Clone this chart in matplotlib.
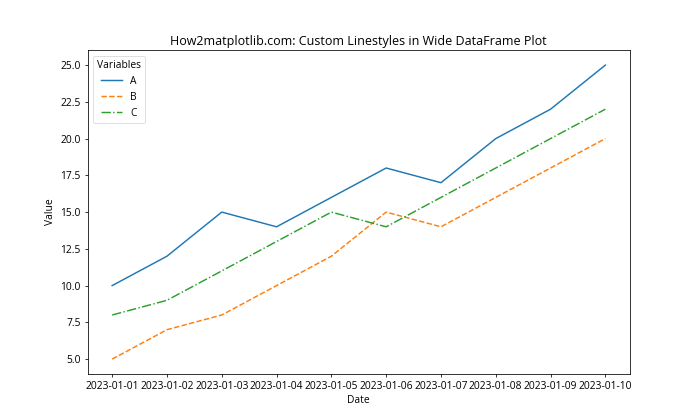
import matplotlib
matplotlib.use("Agg")
import matplotlib.pyplot as plt

plt.rcParams['font.family'] = ['Open Sans', 'DejaVu Sans']

dates = ['2023-01-01', '2023-01-02', '2023-01-03', '2023-01-04', '2023-01-05',
         '2023-01-06', '2023-01-07', '2023-01-08', '2023-01-09', '2023-01-10']
series_a = [10, 12, 15, 14, 16, 18, 17, 20, 22, 25]
series_b = [5, 7, 8, 10, 12, 15, 14, 16, 18, 20]
series_c = [8, 9, 11, 13, 15, 14, 16, 18, 20, 22]

fig = plt.figure(figsize=(7, 4.2), dpi=100)
ax = fig.add_subplot(111)
lw = 1.05
ax.plot(dates, series_a, color='#1f77b4', linestyle='-', linewidth=lw, label='A')
ax.plot(dates, series_b, color='#ff7f0e', linestyle='--', linewidth=lw, label='B')
ax.plot(dates, series_c, color='#2ca02c', linestyle='-.', linewidth=lw, label='C')

ax.set_yticks([5.0, 7.5, 10.0, 12.5, 15.0, 17.5, 20.0, 22.5, 25.0])
ax.tick_params(labelsize=7.4, width=0.56, length=2.45, pad=2.45)
for s in ax.spines.values():
    s.set_linewidth(0.56)
ax.set_title('How2matplotlib.com: Custom Linestyles in Wide DataFrame Plot', fontsize=9, pad=4.2)
ax.set_xlabel('Date', fontsize=7.4, labelpad=2.8)
ax.set_ylabel('Value', fontsize=7.4, labelpad=2.8)
leg = ax.legend(title='Variables', loc='upper left', fontsize=7.4, title_fontsize=7.4)
leg.get_frame().set_linewidth(0.56)

fig.savefig('out.png', dpi=100)
